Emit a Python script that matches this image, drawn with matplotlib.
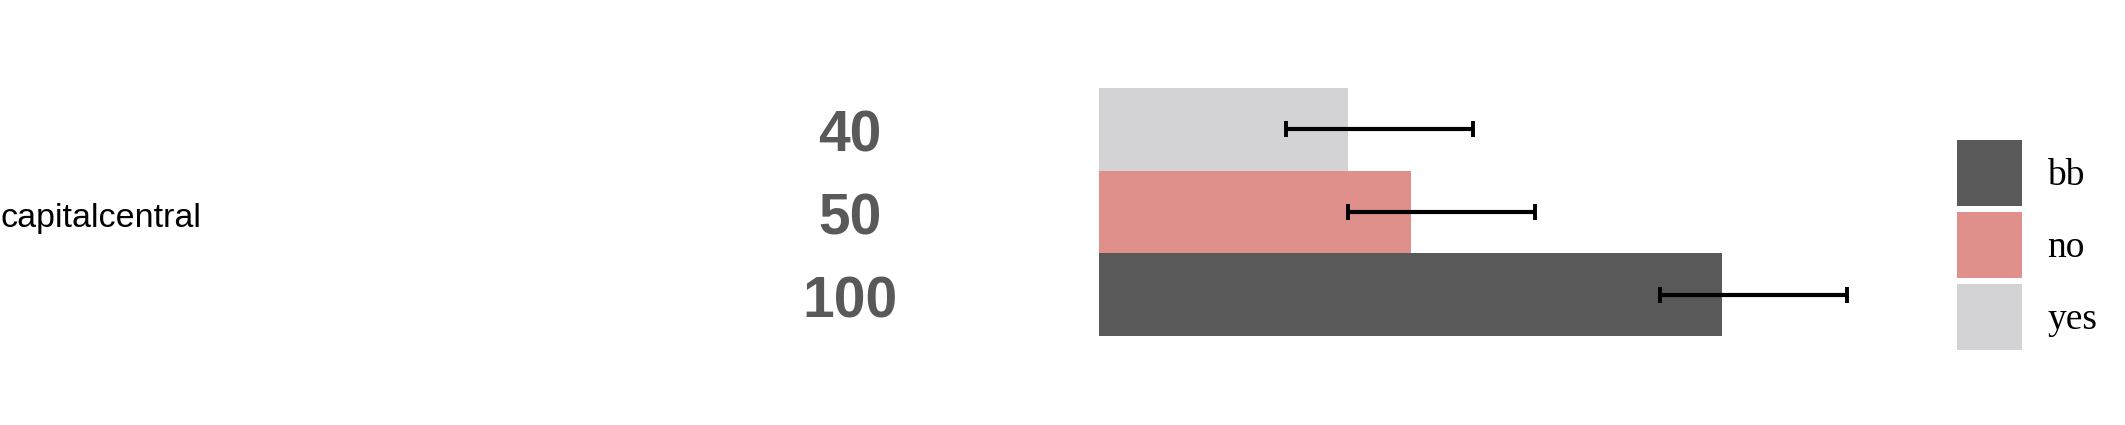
import matplotlib as mpl
mpl.use('Agg')
import matplotlib.pyplot as plt
from matplotlib.patches import Patch

# data
category = "capitalcentral"
groups = ["bb", "no", "yes"]
values = [100, 50, 40]
err_low = [10, 10, 10]
err_high = [20, 20, 20]
colors = ["#595959", "#E0908A", "#D3D3D5"]

W, H = 2125, 425
fig = plt.figure(figsize=(W / 100, H / 100), dpi=100)

# axes placed so that x=0 sits at the left edge of the bars
ax = fig.add_axes([1099 / W, 1 - 336 / H, 810 / W, 248 / H])
ax.set_xlim(0, 130)
ax.set_ylim(-0.5, 2.5)
ax.axis('off')

ypos = list(range(len(groups)))
ax.barh(ypos, values, height=1.0, color=colors, linewidth=0)
centers = [v + (hi - lo) / 2 for v, lo, hi in zip(values, err_low, err_high)]
half = [(lo + hi) / 2 for lo, hi in zip(err_low, err_high)]
ax.errorbar(centers, ypos, xerr=half, fmt='none', ecolor='black',
            elinewidth=3.0, capsize=5.5, capthick=2.8)

for y, v in zip(ypos, values):
    ax.text(-40, y - 0.02, str(v), ha='center', va='center_baseline',
            clip_on=False, fontsize=41, fontweight='bold', color='#595959',
            family='Liberation Sans')

fig.text(0.0, 1 - 218 / H, category, ha='left', va='center',
         fontsize=24.5, family='Liberation Sans', color='black')

handles = [Patch(facecolor=c, edgecolor='none') for c in colors]
fs = 27
fpx = fs * 100 / 72
# legend handle height is reduced by its descent, so solve for the box size
hh = (66 / fpx - 0.245) / 0.65
fig.legend(handles, groups, loc='center left',
           bbox_to_anchor=(1957 / W, 1 - 245 / H), frameon=False,
           borderpad=0, borderaxespad=0,
           handlelength=65 / fpx, handleheight=hh,
           labelspacing=6 / fpx, handletextpad=25 / fpx,
           prop={'family': 'Liberation Serif', 'size': fs})

fig.savefig('out.png', dpi=100)
